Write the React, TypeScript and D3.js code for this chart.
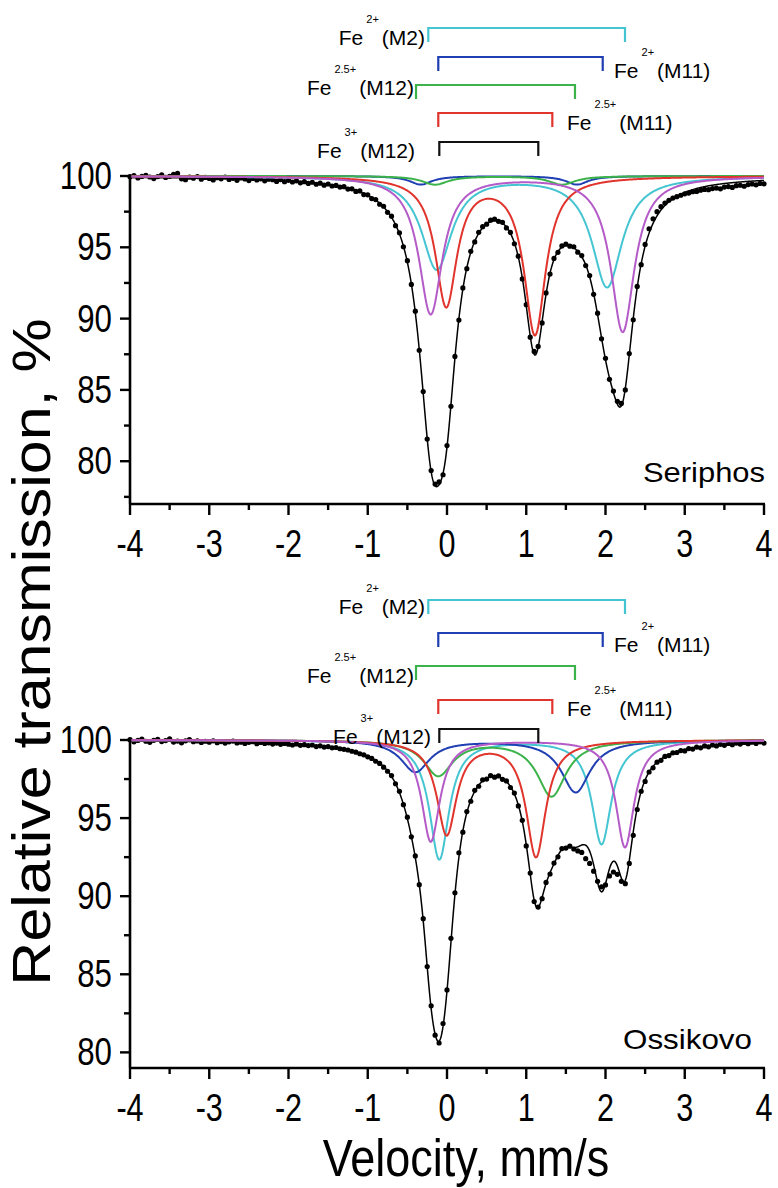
import * as d3 from 'd3';

// velocity channel grid of the measured spectra
const V_START = -4;
const V_STEP = 0.05;

const velocityTicks = [-4, -3, -2, -1, 0, 1, 2, 3, 4];
const transmissionTicks = [80, 85, 90, 95, 100];

// measured relative transmission, %, one value per channel (Seriphos)
const seriphosT = [
  99.95, 100.02, 99.86, 99.97, 100.05, 99.93, 99.82, 99.96, 100.08, 99.9,
  99.98, 100.12, 100.18, 99.8, 99.74, 99.92, 99.85, 99.96, 99.78, 99.9,
  99.83, 99.72, 99.88, 99.8, 99.93, 99.76, 99.84, 99.7, 99.86, 99.79,
  99.68, 99.83, 99.72, 99.8, 99.66, 99.78, 99.74, 99.62, 99.75, 99.6,
  99.7, 99.58, 99.66, 99.52, 99.6, 99.48, 99.56, 99.42, 99.5, 99.36,
  99.44, 99.3, 99.34, 99.22, 99.25, 99.08, 99.1, 98.92, 98.95, 98.7,
  98.68, 98.42, 98.35, 98.02, 97.88, 97.45, 97.18, 96.52, 96.02, 95.04,
  94.06, 92.4, 90.52, 87.78, 84.88, 81.55, 79.35, 78.4, 78.55, 79.05,
  81.1, 83.85, 87.35, 89.9, 92.15, 93.5, 94.72, 95.38, 96.05, 96.45,
  96.62, 96.9, 96.98, 96.82, 96.75, 96.36, 96.04, 95.25, 94.38, 92.78,
  90.98, 88.7, 87.7, 88.05, 89.7, 91.8, 93.12, 94.22, 94.65, 95.1,
  95.22, 95.08, 95.04, 94.66, 94.42, 93.72, 93.02, 91.7, 90.38, 88.58,
  87.22, 85.74, 84.92, 84.2, 84.05, 85.0, 87.55, 89.92, 92.26, 93.78,
  95.2, 96.3, 97.0, 97.5, 97.85, 98.1, 98.3, 98.45, 98.55, 98.65,
  98.75, 98.8, 98.9, 98.92, 99.0, 99.06, 99.04, 99.12, 99.15, 99.1,
  99.22, 99.26, 99.2, 99.32, 99.35, 99.28, 99.4, 99.44, 99.38, 99.48,
  99.45,
];

// measured relative transmission, %, one value per channel (Ossikovo)
const ossikovoT = [
  100.02, 99.88, 99.97, 100.05, 99.92, 99.85, 99.98, 100.04, 99.9, 99.96,
  100.08, 99.87, 99.93, 99.82, 99.95, 100.03, 99.89, 99.94, 99.84, 99.92,
  99.86, 99.95, 99.83, 99.9, 99.8, 99.88, 99.93, 99.81, 99.86, 99.78,
  99.85, 99.89, 99.76, 99.84, 99.78, 99.82, 99.74, 99.8, 99.72, 99.78,
  99.73, 99.68, 99.75, 99.66, 99.7, 99.64, 99.68, 99.58, 99.63, 99.55,
  99.58, 99.5, 99.52, 99.44, 99.4, 99.36, 99.28, 99.22, 99.12, 99.05,
  98.92, 98.82, 98.64, 98.5, 98.26, 98.0, 97.72, 97.2, 96.72, 95.86,
  95.06, 93.8, 92.58, 90.74, 88.56, 85.5, 82.98, 81.1, 80.6, 81.85,
  84.0, 87.3, 90.22, 92.78, 94.1, 95.42, 96.08, 96.78, 97.04, 97.45,
  97.5, 97.72, 97.62, 97.7, 97.48, 97.38, 96.96, 96.6, 95.78, 94.86,
  93.22, 91.48, 89.66, 89.3, 89.84, 90.88, 91.42, 92.12, 92.52, 93.05,
  93.08, 93.2, 93.02, 92.9, 92.8, 92.4, 92.1, 91.6, 90.95, 90.6,
  90.72, 91.3, 91.55, 91.4, 90.95, 90.8, 92.1, 93.9, 95.55, 96.72,
  97.35, 97.95, 98.22, 98.58, 98.7, 98.95, 99.0, 99.18, 99.2, 99.32,
  99.3, 99.45, 99.42, 99.55, 99.5, 99.62, 99.56, 99.68, 99.62, 99.72,
  99.66, 99.78, 99.7, 99.8, 99.74, 99.84, 99.76, 99.86, 99.78, 99.88,
  99.8,
];

// fitted doublets: [line 1, line 2] position (mm/s), depth (%), and half width (mm/s)
// order: Fe2+(M2), Fe2+(M11), Fe2.5+(M12), Fe2.5+(M11), extra doublet
const seriphosCenters = [[-0.13, 2.02], [-0.33, 1.64], [-0.15, 1.45], [-0.01, 1.11], [-0.206, 2.217]];
const seriphosDepths = [[6.5, 7.75], [0.6, 0.6], [0.6, 0.6], [9.0, 11.0], [9.66, 10.9]];
const seriphosHwhm = [0.23, 0.17, 0.2, 0.165, 0.18];

const ossikovoCenters = [[-0.097, 1.95], [-0.4, 1.624], [-0.11, 1.32], [-0.004, 1.123], [-0.205, 2.246]];
const ossikovoDepths = [[7.63, 6.65], [2.03, 3.34], [2.24, 3.58], [6.0, 7.42], [6.5, 6.86]];
const ossikovoHwhm = [0.15, 0.22, 0.22, 0.15, 0.14];

// stick diagram over each spectrum
const legendIons = ['2+', '2+', '2.5+', '2.5+', '3+'];
const legendSites = ['(M2)', '(M11)', '(M12)', '(M11)', '(M12)'];
const seriphosBrackets = [[-0.236, 2.246], [-0.11, 1.965], [-0.391, 1.615], [-0.11, 1.329], [-0.097, 1.152]];
const ossikovoBrackets = [[-0.236, 2.246], [-0.11, 1.965], [-0.391, 1.615], [-0.11, 1.329], [-0.097, 1.152]];

const curveColors = ['#45c5d2', '#1f3fb2', '#3cb34a', '#e0342c', '#b45bc8'];
const bracketColors = ['#45c5d2', '#1f3fb2', '#3cb34a', '#e0342c', '#111'];

const FONT = "'Liberation Sans', Arial, Helvetica, sans-serif";
const X0 = 130;
const X1 = 764;

const lorentz = (v, c, d, g) => d / (1 + ((v - c) / g) ** 2);

function Panel({ t, centers, depths, hwhm, brackets, layout }) {
  const x = d3.scaleLinear().domain([-4, 4]).range([X0, X1]);
  const y = d3.scaleLinear().domain(layout.yDomain).range([layout.yBottom, layout.yTop]);

  const grid = d3.range(-4, 4.0001, 0.01);
  const drop = (v, k) =>
    lorentz(v, centers[k][0], depths[k][0], hwhm[k]) + lorentz(v, centers[k][1], depths[k][1], hwhm[k]);

  const line = d3.line().curve(d3.curveLinear);
  const compPath = (k) => line(grid.map(v => [x(v), y(100 - drop(v, k))]));
  const totalPath = line(grid.map(v => [x(v), y(100 - d3.sum(centers, (_, k) => drop(v, k)))]));

  const dots = t.map((val, i) => [V_START + i * V_STEP, val]);
  const minorY = [77.5, 82.5, 87.5, 92.5, 97.5].filter(v => v > layout.yDomain[0]);
  const minorX = d3.range(-3.5, 4, 1);

  return (
    <g>
      {/* data */}
      <path d={totalPath} fill="none" stroke="#000" strokeWidth={1.5} />
      {dots.map(([v, val], i) => (
        <circle key={i} cx={x(v)} cy={y(val)} r={2.6} fill="#000" />
      ))}
      {centers.map((_, k) => (
        <path key={k} d={compPath(k)} fill="none" stroke={curveColors[k]} strokeWidth={2} />
      ))}

      {/* axes */}
      <line x1={X0} x2={X0} y1={layout.yBottom} y2={layout.yTop - 1} stroke="#000" strokeWidth={2.6} />
      <line x1={X0 - 1} x2={X1 + 1} y1={layout.yBottom} y2={layout.yBottom} stroke="#000" strokeWidth={2.6} />
      {transmissionTicks.map(v => (
        <g key={v}>
          <line x1={X0 - 10} x2={X0} y1={y(v)} y2={y(v)} stroke="#000" strokeWidth={2.4} />
          <text transform={`translate(112,${y(v) + 13}) scale(0.92,1.12)`} textAnchor="end" fontSize={34} fontFamily={FONT}>{v}</text>
        </g>
      ))}
      {minorY.map(v => (
        <line key={v} x1={X0 - 6} x2={X0} y1={y(v)} y2={y(v)} stroke="#000" strokeWidth={2.4} />
      ))}
      {velocityTicks.map(v => (
        <g key={v}>
          <line x1={x(v)} x2={x(v)} y1={layout.yBottom} y2={layout.yBottom + 11} stroke="#000" strokeWidth={2.4} />
          <text transform={`translate(${x(v)},${layout.yBottom + 53}) scale(0.9,1.14)`} textAnchor="middle" fontSize={34} fontFamily={FONT}>
            {v < 0 ? `-${-v}` : v}
          </text>
        </g>
      ))}
      {minorX.map(v => (
        <line key={v} x1={x(v)} x2={x(v)} y1={layout.yBottom} y2={layout.yBottom + 6} stroke="#000" strokeWidth={2.4} />
      ))}

      <text x={layout.nameX} y={layout.nameY} textAnchor="end" fontSize={28} fontFamily={FONT}
        textLength={layout.nameW} lengthAdjust="spacingAndGlyphs">{layout.name}</text>

      {/* stick diagram */}
      {brackets.map(([a, b], k) => {
        const top = layout.barTops[k];
        const lab = layout.labels[k];
        return (
          <g key={k}>
            <path d={`M${x(a)},${top + 14}V${top}H${x(b)}V${top + 14}`} fill="none" stroke={bracketColors[k]} strokeWidth={2.2} />
            <text x={lab.x} y={lab.y} textAnchor={lab.anchor} fontSize={21} fontFamily={FONT}>
              <tspan>Fe</tspan>
              <tspan dx={3} dy={-22} fontSize={11}>{legendIons[k]}</tspan>
              <tspan dx={3} dy={22}>{legendSites[k]}</tspan>
            </text>
          </g>
        );
      })}
    </g>
  );
}

const topLayout = {
  yDomain: [77, 100], yBottom: 504, yTop: 176,
  name: 'Seriphos', nameX: 765, nameY: 482, nameW: 122,
  barTops: [28, 57, 85, 113, 142],
  labels: [
    { anchor: 'end', x: 425, y: 45 },
    { anchor: 'start', x: 614, y: 78 },
    { anchor: 'end', x: 414, y: 95 },
    { anchor: 'start', x: 567, y: 130 },
    { anchor: 'end', x: 415, y: 158 },
  ],
};

const bottomLayout = {
  yDomain: [79, 100], yBottom: 1068, yTop: 740,
  name: 'Ossikovo', nameX: 752, nameY: 1049, nameW: 129,
  barTops: [600, 633, 666, 700, 729],
  labels: [
    { anchor: 'end', x: 425, y: 614 },
    { anchor: 'start', x: 614, y: 652 },
    { anchor: 'end', x: 414, y: 683 },
    { anchor: 'start', x: 567, y: 716 },
    { anchor: 'end', x: 431, y: 744 },
  ],
};

export default function App() {
  return (
    <svg width={778} height={1188} style={{ position: 'absolute', left: 0, top: 0, background: '#fff' }}>
      <Panel t={seriphosT} centers={seriphosCenters} depths={seriphosDepths} hwhm={seriphosHwhm}
        brackets={seriphosBrackets} layout={topLayout} />
      <Panel t={ossikovoT} centers={ossikovoCenters} depths={ossikovoDepths} hwhm={ossikovoHwhm}
        brackets={ossikovoBrackets} layout={bottomLayout} />
      <text transform="translate(50,652) rotate(-90) scale(1.15,1)" textAnchor="middle" fontSize={53} fontFamily={FONT}>
        Relative transmission, %
      </text>
      <text transform="translate(466,1176) scale(1,1.15)" textAnchor="middle" fontSize={45} fontFamily={FONT}>
        Velocity, mm/s
      </text>
    </svg>
  );
}
